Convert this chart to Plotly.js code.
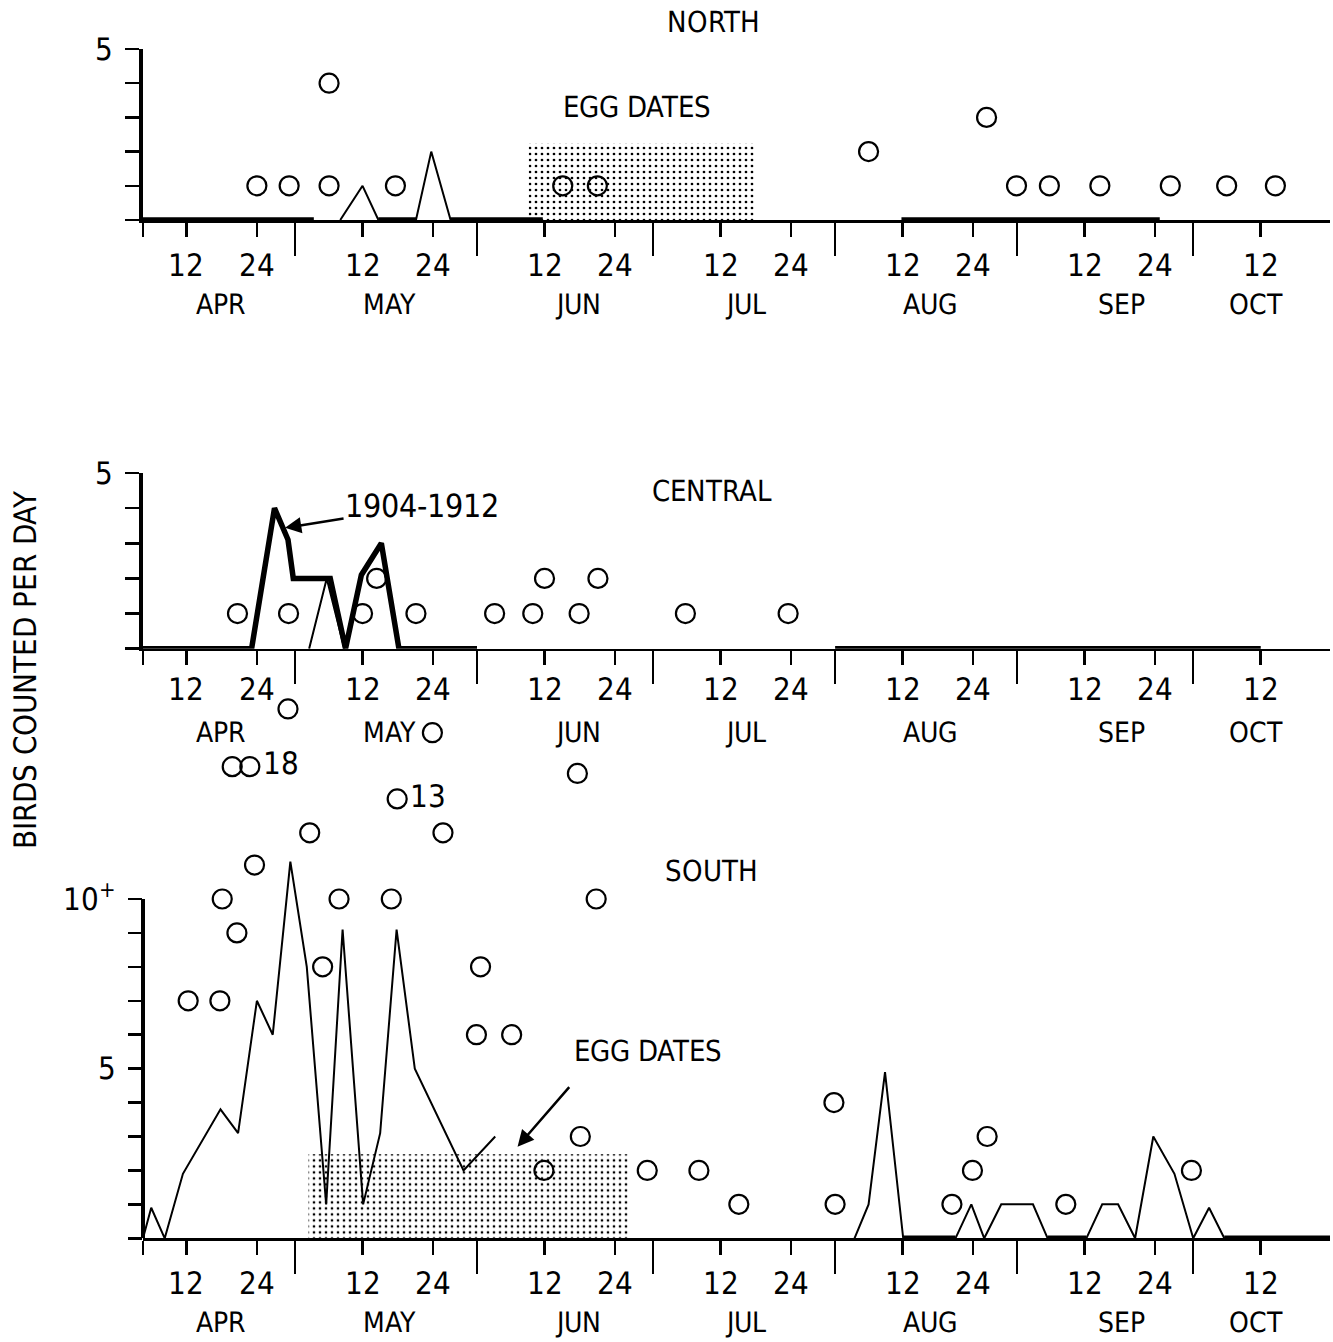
<!DOCTYPE html>
<html><head><meta charset="utf-8">
<script src="https://cdn.plot.ly/plotly-3.0.1.min.js"></script>
<style>
@font-face { font-family: 'NarrowX'; src: local('Liberation Sans Narrow'), local('LiberationSansNarrow-Regular'), local('LiberationSansNarrow'), local('DejaVu Sans Condensed'), local('DejaVuSansCondensed'); }
html,body{margin:0;padding:0;background:#fff}
#chart{width:1333px;height:1342px}
#chart svg text{font-stretch:condensed !important;}
</style>
</head><body><div id="chart"></div><script>
// Day numbers: 1 = April 1, 31 = May 1, 62 = June 1, 92 = July 1, 123 = Aug 1, 154 = Sep 1, 184 = Oct 1
const tickDays = [12,24,42,54,73,85,103,115,134,146,165,177,195];
const tickLabels = ['12','24','12','24','12','24','12','24','12','24','12','24','12'];
const monthBoundaryDays = [30.5,61.5,91.5,122.5,153.5,183.5];
const monthNames = ['APR','MAY','JUN','JUL','AUG','SEP','OCT'];
const monthLabelDays = [17.9,46.6,78.7,107.2,138.8,171.2,194.2];

// NORTH
const northThickX = [4.6,33.7,null,44.7,51.1,null,57,72.7,null,133.8,177.8];
const northThickY = [0,0,null,0,0,null,0,0,null,0,0];
const northThinX = [38.2,42,44.7,null,51.1,53.7,57];
const northThinY = [0,1,0,null,0,2,0];
const northCircleX = [24,29.5,36.3,36.3,47.6,76.1,82,128.2,148.3,153.4,159,167.6,179.6,189.2,197.5];
const northCircleY = [1,1,1,4,1,1,1,2,3,1,1,1,1,1,1];
const northEggDays = [70.3,108.8];
const northEggTop = 2.25;

// CENTRAL
const centralThickX = [4.6,23.1,27,29.3,30.2,36.5,39.1,41.8,45.2,48.2,61.5,null,122.5,195];
const centralThickY = [0,0,4,3.1,2,2,0,2.1,3,0,0,null,0,0];
const centralThinX = [32.9,35.9,38.9];
const centralThinY = [0,2,0];
const centralCircleX = [20.7,29.4,42,44.4,51.1,64.5,71,73,78.9,82.1,97,114.5];
const centralCircleY = [1,1,1,2,1,1,1,2,1,2,1,1];

// SOUTH
const southThinX = [4.6,6.0,8.3,11.4,17.8,20.8,24,26.7,29.7,32.5,35.8,38.6,42.1,45,47.8,50.9,59.2,64.6,null,
  125.8,128.2,131,134.1,143,145.7,147.9,150.8,156.2,158.7,165.3,168,170.7,173.6,176.7,180.3,183.5,186.2,188.8];
const southThinY = [0,0.9,0,1.9,3.8,3.1,7,6,11.1,8,1,9.1,1,3.1,9.1,5,2,3,null,
  0,1,4.9,0,0,1,0,1,1,0,0,1,1,0,3,1.9,0,0.9,0];
const southThickX = [134.1,143,null,158.7,165.3,null,188.8,206.8];
const southThickY = [0,0,null,0,0,null,0,0];
const southCircleX = [12.3,17.7,18.1,20.6,23.6,35.2,38,46.9,62.1,61.4,67.4,81.8,79.1,72.9,90.5,99.3,106.1,122.3,122.5,142.4,145.9,148.4,161.8,183.2,
  29.3,53.9,19.8,22.8,47.9,33,55.7,78.6];
const southCircleY = [7,7,10,9,11,8,10,10,8,6,6,10,3,2,2,2,1,4,1,1,2,3,1,2,
  15.6,14.9,13.9,13.9,12.95,11.95,11.95,13.7];
const southCircleText = ['','','','','','','','','','','','','','','','','','','','','','','','',
  '','','','18','13','','',''];
const southEggDays = [32.8,87.4];
const southEggTop = 2.48;

const FONT = 'NarrowX, "DejaVu Sans", sans-serif';
const W = 1333, H = 1342;
const py = p => 1 - p / H;
const xDomain = [143 / W, 1330 / W];
const xRange = [4.6, 206.8];
const NUM = 31;

function xaxisCfg(anchor, standoff) {
  return {
    domain: xDomain, range: xRange, anchor: anchor, automargin: false,
    showline: true, linewidth: 2.5, linecolor: '#000',
    ticks: 'outside', ticklen: 14, tickwidth: 2.5, tickcolor: '#000',
    tickmode: 'array', tickvals: [xRange[0]].concat(tickDays), ticktext: [''].concat(tickLabels),
    ticklabelstandoff: standoff,
    tickfont: {family: FONT, size: NUM, color: '#000'},
    showgrid: false, zeroline: false, fixedrange: true,
    minor: {tickmode: 'array', tickvals: monthBoundaryDays, ticks: 'outside', ticklen: 33, tickwidth: 2.5, tickcolor: '#000', showgrid: false}
  };
}
function yaxisCfg(anchor, domain, range, vals, texts, showline) {
  return {
    domain: domain, range: range, anchor: anchor, automargin: false,
    showline: showline, linewidth: 4, linecolor: '#000',
    ticks: 'outside', ticklen: 14, tickwidth: 2.5, tickcolor: '#000',
    tickmode: 'array', tickvals: vals, ticktext: texts, ticklabelstandoff: 6,
    tickfont: {family: FONT, size: NUM, color: '#000'},
    showgrid: false, zeroline: false, fixedrange: true
  };
}

function eggBar(days, top, xa, ya) {
  return {type: 'bar', x: [(days[0] + days[1]) / 2], y: [top], width: [days[1] - days[0]], base: 0,
    xaxis: xa, yaxis: ya, hoverinfo: 'skip',
    marker: {color: '#fff', line: {width: 0},
      pattern: {shape: '.', fgcolor: '#000', bgcolor: '#fff', size: 6, solidity: 0.16, fillmode: 'replace'}}};
}
function lineTr(x, y, w, xa, ya) {
  return {type: 'scatter', mode: 'lines', x: x, y: y, xaxis: xa, yaxis: ya, connectgaps: false,
    line: {color: '#000', width: w, shape: 'linear'}, hoverinfo: 'skip'};
}
function circTr(x, y, xa, ya, text) {
  return {type: 'scatter', mode: text ? 'markers+text' : 'markers', x: x, y: y, xaxis: xa, yaxis: ya,
    text: text, textposition: 'middle right', textfont: {family: FONT, size: NUM, color: '#000'},
    cliponaxis: false,
    marker: {symbol: 'circle-open', size: 19, color: '#000', line: {width: 2.2, color: '#000'}}};
}

const data = [
  eggBar(northEggDays, northEggTop, 'x', 'y'),
  lineTr(northThickX, northThickY, 5.5, 'x', 'y'),
  lineTr(northThinX, northThinY, 2, 'x', 'y'),
  circTr(northCircleX, northCircleY, 'x', 'y'),

  lineTr(centralThickX, centralThickY, 5.5, 'x2', 'y2'),
  lineTr(centralThinX, centralThinY, 2, 'x2', 'y2'),
  circTr(centralCircleX, centralCircleY, 'x2', 'y2'),

  eggBar(southEggDays, southEggTop, 'x3', 'y3'),
  lineTr(southThickX, southThickY, 5.5, 'x3', 'y3'),
  lineTr(southThinX, southThinY, 2, 'x3', 'y3'),
  circTr(southCircleX, southCircleY, 'x3', 'y3', southCircleText)
];

const txt = (text, x, y, size, extra) => Object.assign({
  text: text, xref: 'paper', yref: 'paper', x: x, y: y, xanchor: 'center', yanchor: 'middle',
  showarrow: false, font: {family: FONT, size: size, color: '#000'}}, extra || {});

const annotations = [
  txt('NORTH', 714 / W, py(22), 29),
  txt('EGG DATES', 637 / W, py(107), 29),
  txt('CENTRAL', 712 / W, py(491), 29),
  {xref: 'x2', yref: 'y2', x: 28.8, y: 3.44, ax: 137, ay: -22, text: '1904-1912', showarrow: true,
   arrowhead: 2, arrowsize: 1.3, arrowwidth: 2.5, arrowcolor: '#000', standoff: 0, startstandoff: 0,
   font: {family: FONT, size: 32, color: '#000'}},
  txt('SOUTH', 711 / W, py(871), 29),
  txt('EGG DATES', 648 / W, py(1051), 29),
  txt('BIRDS COUNTED PER DAY', 25 / W, py(670), 31, {textangle: -90}),
  {xref: 'x3', yref: 'y3', x: 68.4, y: 2.7, ax: 53, ay: -61, text: '', showarrow: true,
   arrowhead: 2, arrowsize: 1.3, arrowwidth: 2.5, arrowcolor: '#000'}
];
const monthRows = [['x', 304.5], ['x2', 732.5], ['x3', 1322]];
monthRows.forEach(([xr, ypx]) => {
  monthNames.forEach((m, i) => {
    annotations.push({text: m, xref: xr, yref: 'paper', x: monthLabelDays[i], y: py(ypx),
      xanchor: 'center', yanchor: 'middle', showarrow: false,
      font: {family: FONT, size: 28, color: '#000'}});
  });
});

const layout = {
  width: W, height: H, margin: {l: 0, r: 0, t: 0, b: 0, pad: 0},
  paper_bgcolor: '#fff', plot_bgcolor: 'rgba(0,0,0,0)', showlegend: false,
  font: {family: FONT, color: '#000'},
  xaxis: xaxisCfg('y', 2),
  yaxis: yaxisCfg('x', [py(220), py(49)], [0, 5], [0,1,2,3,4,5], ['','','','','','5'], true),
  xaxis2: xaxisCfg('y2', -2),
  yaxis2: yaxisCfg('x2', [py(648.7), py(473)], [0, 5], [0,1,2,3,4,5], ['','','','','','5'], true),
  xaxis3: xaxisCfg('y3', 2),
  yaxis3: yaxisCfg('x3', [py(1238.3), py(695.4)], [0, 16], [0,1,2,3,4,5,6,7,8,9,10],
    ['','','','','','5','','','','','10<sup>+</sup>'], false),
  shapes: [
    {type: 'line', xref: 'paper', yref: 'y3', x0: 143 / W, x1: 143 / W, y0: 0, y1: 10,
     line: {color: '#000', width: 4}}
  ],
  annotations: annotations
};

Plotly.newPlot('chart', data, layout, {staticPlot: true, displayModeBar: false});
</script></body></html>
